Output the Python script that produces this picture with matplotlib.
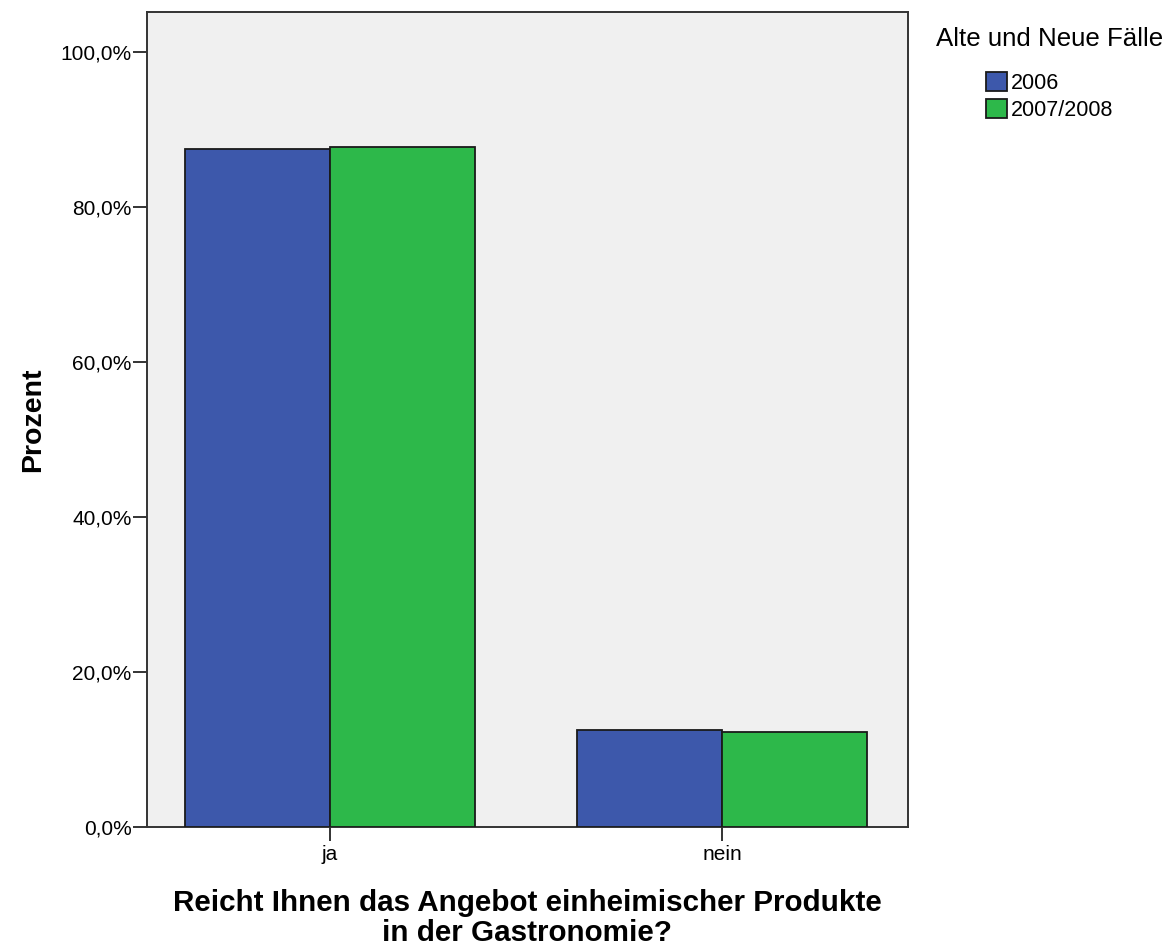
import matplotlib
matplotlib.use("Agg")
import matplotlib.pyplot as plt
import numpy as np

categories = ["ja", "nein"]
series_names = ["2006", "2007/2008"]
values_2006 = [87.5, 12.5]
values_2007 = [87.8, 12.2]
colors = ["#3D58AB", "#2DB84A"]
yticks = [0, 20, 40, 60, 80, 100]
ytick_labels = ["0,0%", "20,0%", "40,0%", "60,0%", "80,0%", "100,0%"]

plt.rcParams["font.family"] = ["Liberation Sans", "DejaVu Sans"]

fig = plt.figure(figsize=(11.73, 9.52), dpi=100)
ax = fig.add_axes([0.1253, 0.1313, 0.6488, 0.8561])
ax.set_facecolor("#F0F0F0")

x = np.arange(len(categories))
w = 0.37
ax.bar(x - w / 2, values_2006, w, color=colors[0], edgecolor="#1a1a1a",
       linewidth=1.3, label=series_names[0], zorder=3)
ax.bar(x + w / 2, values_2007, w, color=colors[1], edgecolor="#1a1a1a",
       linewidth=1.3, label=series_names[1], zorder=3)

ax.set_xlim(-0.467, 1.474)
ax.set_ylim(0, 105.2)
ax.set_xticks(x)
ax.set_xticklabels(categories, fontsize=15)
ax.set_yticks(yticks)
ax.set_yticklabels(ytick_labels, fontsize=15)
ax.tick_params(length=10, width=1.4, color="#333333")
ax.tick_params(axis="y", pad=1)
ax.tick_params(axis="x", pad=3)
for s in ax.spines.values():
    s.set_linewidth(1.4)
    s.set_color("#333333")

ax.set_ylabel("Prozent", fontsize=20.5, fontweight="bold", va="center")
ax.yaxis.set_label_coords(-0.15, 0.5)
ax.set_xlabel("Reicht Ihnen das Angebot einheimischer Produkte\nin der Gastronomie?",
              fontsize=21.3, fontweight="bold", va="center", linespacing=1.12)
ax.xaxis.set_label_coords(0.4993, -0.1117)

leg = fig.legend(title="Alte und Neue Fälle", loc="upper center",
                 bbox_to_anchor=(1050 / 1173, 1 - 27 / 952), frameon=False,
                 fontsize=15.5, title_fontsize=18.6, handlelength=0.95,
                 handleheight=1.0, handletextpad=0.2, labelspacing=0.25,
                 borderpad=0, borderaxespad=0)
leg._legend_box.sep = 15

fig.savefig("out.png", dpi=100, facecolor="white")
